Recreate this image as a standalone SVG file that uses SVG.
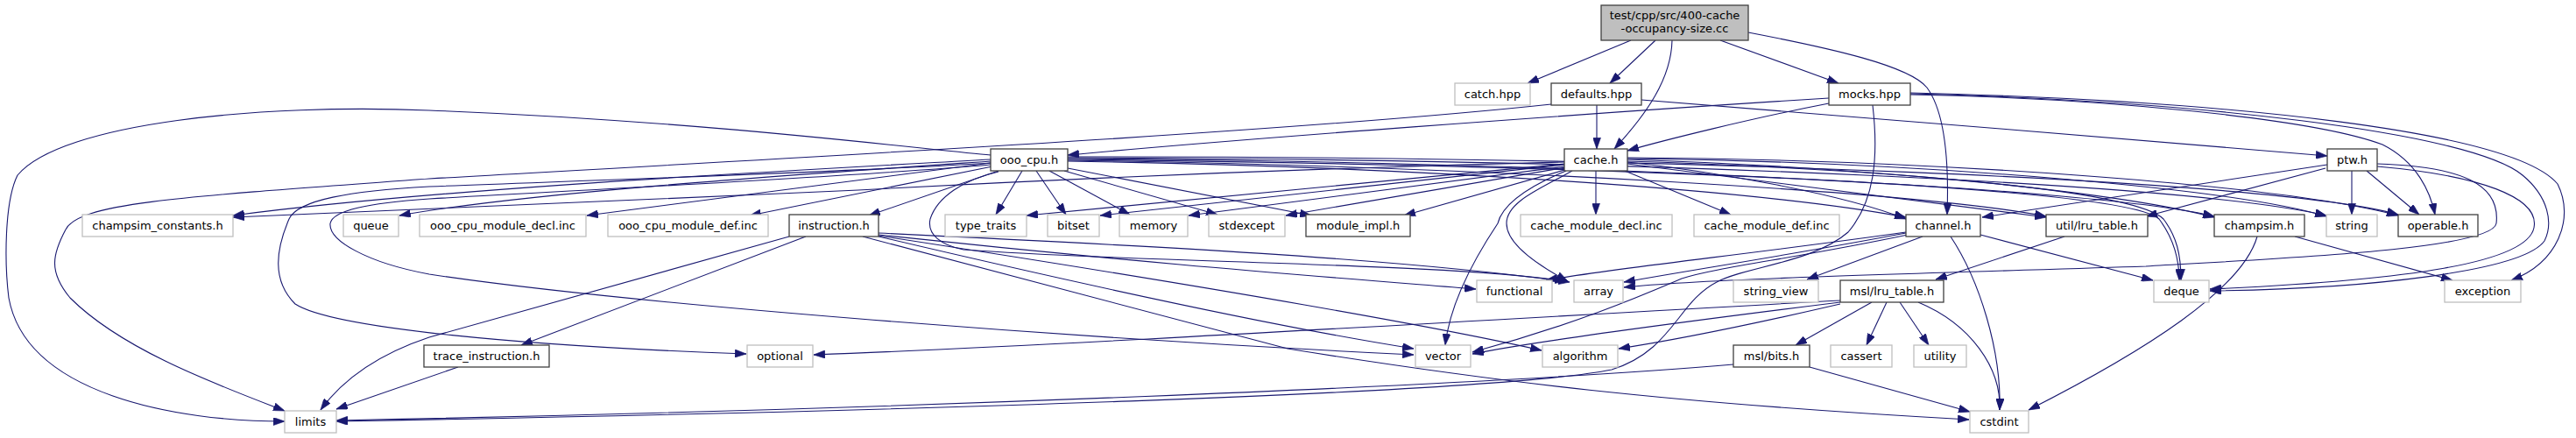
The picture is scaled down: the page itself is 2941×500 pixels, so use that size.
<svg xmlns="http://www.w3.org/2000/svg" width="2941" height="500" viewBox="0 0 2941 500">
<style>
text{font-family:"DejaVu Sans","Liberation Sans",sans-serif;font-size:13px;fill:#000;text-anchor:middle}
.n rect{fill:#fff;stroke:#404040;stroke-width:1.3}
.x rect{fill:#fff;stroke:#bfbfbf;stroke-width:1.3}
.r rect{fill:#bfbfbf;stroke:#404040;stroke-width:1.3}
#edges path{fill:none;stroke:#191970;stroke-width:1.1;marker-end:url(#a)}
</style>
<defs>
<marker id="a" viewBox="0 0 10 7" refX="10" refY="3.5" markerWidth="13" markerHeight="9" markerUnits="userSpaceOnUse" orient="auto"><path d="M0,0L10,3.5L0,7z" fill="#191970" stroke="#191970" stroke-width="0.5"/></marker>
</defs>
<rect width="2941" height="500" fill="#fff"/>
<g id="edges">
<path d="M1862,46L1744,95"/>
<path d="M1890,46L1838,95"/>
<path d="M1909,46C1908,90 1880,130 1843,170"/>
<path d="M1964,46L2099,95"/>
<path d="M1996,37C2090,55 2180,75 2200,100C2222,130 2225,190 2223,245"/>
<path d="M1823,120L1823,170"/>
<path d="M1874,114C2050,128 2450,160 2657,178"/>
<path d="M1771,119C1500,148 1000,175 490,204C200,225 90,232 75,262C60,290 55,310 80,340C140,400 250,440 325,469"/>
<path d="M2088,112C1800,130 1400,160 1219,177"/>
<path d="M2088,118C2000,135 1900,160 1858,172"/>
<path d="M2138,120C2145,180 2140,230 2110,265C2070,300 1990,305 1960,322C1915,345 1910,400 1840,422C1700,450 1000,470 384,481"/>
<path d="M2181,108C2400,112 2640,135 2720,165C2760,185 2775,220 2780,245"/>
<path d="M2181,107C2500,115 2820,150 2880,200C2910,225 2915,255 2905,275C2880,310 2700,330 2523,332"/>
<path d="M2181,106C2550,115 2870,150 2920,210C2940,250 2920,300 2867,320"/>
<path d="M2685,195L2685,245"/>
<path d="M2702,195L2762,245"/>
<path d="M2657,188L2263,248"/>
<path d="M2655,192L2450,247"/>
<path d="M2714,190C2830,200 2900,225 2893,260C2885,300 2750,320 2523,330"/>
<path d="M2714,187C2810,190 2855,210 2850,255C2845,285 2600,295 2450,304C2200,312 1950,318 1854,328"/>
<path d="M1786,185C1500,192 1200,205 980,217C700,230 400,240 266,248"/>
<path d="M1786,187L1172,246"/>
<path d="M1786,188L1256,246"/>
<path d="M1787,190L1357,246"/>
<path d="M1788,191L1468,246"/>
<path d="M1790,193L1603,246"/>
<path d="M1822,195L1822,245"/>
<path d="M1855,195L1976,245"/>
<path d="M1858,185C1950,195 2100,220 2176,250"/>
<path d="M1858,187L2336,248"/>
<path d="M1858,182C2100,190 2400,215 2528,248"/>
<path d="M1858,181C2200,185 2550,215 2656,247"/>
<path d="M1858,180C2200,182 2600,210 2738,246"/>
<path d="M1858,184C2200,195 2440,220 2470,250C2485,270 2490,290 2490,320"/>
<path d="M1795,195C1760,215 1720,230 1720,255C1720,280 1760,305 1790,321"/>
<path d="M1788,195C1740,215 1715,235 1710,255C1680,300 1655,350 1650,394"/>
<path d="M1131,177C1050,170 800,138 490,126C300,118 70,140 20,200C5,230 5,300 10,340C30,450 200,481 325,481"/>
<path d="M1131,182C900,195 500,215 266,246"/>
<path d="M1131,184C900,200 600,220 456,246"/>
<path d="M1131,186L670,246"/>
<path d="M1133,190L856,246"/>
<path d="M1140,195L992,246"/>
<path d="M1167,195L1137,245"/>
<path d="M1183,195L1217,245"/>
<path d="M1198,195L1290,245"/>
<path d="M1215,195L1390,245"/>
<path d="M1219,192L1497,246"/>
<path d="M1219,184C1600,190 2000,215 2176,248"/>
<path d="M1219,183C1700,190 2200,220 2336,247"/>
<path d="M1219,181C1800,185 2400,215 2528,247"/>
<path d="M1219,180C1900,182 2500,210 2656,246"/>
<path d="M1219,179C1900,178 2600,205 2738,245"/>
<path d="M1219,182C1900,190 2430,215 2465,250C2480,270 2488,295 2488,320"/>
<path d="M1140,196C1100,205 1070,225 1062,250C1058,268 1075,280 1100,285C1300,300 1650,300 1788,321"/>
<path d="M1131,186C1000,195 700,205 490,213C400,218 340,228 330,250C315,285 310,320 337,347C380,375 600,395 852,404"/>
<path d="M1131,188C1000,200 700,215 490,227C420,232 380,240 377,255C375,275 420,300 490,313C700,345 1200,385 1614,405"/>
<path d="M901,270L490,385C430,405 390,435 366,468"/>
<path d="M920,270L595,394"/>
<path d="M1003,266C1300,280 1600,295 1792,322"/>
<path d="M1003,268C1300,300 1500,315 1685,330"/>
<path d="M1003,269C1400,330 1650,375 1760,400"/>
<path d="M1003,270C1300,340 1500,380 1614,398"/>
<path d="M985,270L1470,398C1700,435 1900,460 2248,479"/>
<path d="M523,419L384,467"/>
<path d="M2176,265C2000,290 1850,305 1765,320"/>
<path d="M2176,266C2050,290 1950,305 1854,322"/>
<path d="M2178,268C2050,295 1960,305 1920,318C1880,335 1800,370 1681,402"/>
<path d="M2195,270L2063,319"/>
<path d="M2227,270C2260,320 2285,400 2283,468"/>
<path d="M2261,268L2458,320"/>
<path d="M2357,270L2210,319"/>
<path d="M2137,345L2050,394"/>
<path d="M2154,345L2131,394"/>
<path d="M2169,345L2202,394"/>
<path d="M2190,345C2250,370 2285,420 2283,468"/>
<path d="M2101,343C1700,365 1200,395 929,405"/>
<path d="M2101,345C1900,370 1750,390 1681,404"/>
<path d="M2101,347C1980,375 1900,390 1848,398"/>
<path d="M2066,419L2249,470"/>
<path d="M1979,416C1700,440 1000,468 384,480"/>
<path d="M2577,270C2560,330 2450,400 2316,468"/>
<path d="M2620,270L2800,320"/>
</g>
<g id="n0" class="r"><rect x="1828" y="6" width="168" height="40"/><text x="1912" y="21.5">test/cpp/src/400-cache</text><text x="1912" y="36.5">-occupancy-size.cc</text></g>
<g id="n1" class="x"><rect x="1661" y="95" width="86" height="25"/><text x="1704" y="112">catch.hpp</text></g>
<g id="n2" class="n"><rect x="1771" y="95" width="103" height="25"/><text x="1822.5" y="112">defaults.hpp</text></g>
<g id="n3" class="n"><rect x="2088" y="95" width="93" height="25"/><text x="2134.5" y="112">mocks.hpp</text></g>
<g id="n4" class="n"><rect x="1131" y="170" width="88" height="25"/><text x="1175" y="187">ooo_cpu.h</text></g>
<g id="n5" class="n"><rect x="1786" y="170" width="72" height="25"/><text x="1822" y="187">cache.h</text></g>
<g id="n6" class="n"><rect x="2657" y="170" width="57" height="25"/><text x="2685.5" y="187">ptw.h</text></g>
<g id="n7" class="x"><rect x="94" y="245" width="172" height="25"/><text x="180" y="262">champsim_constants.h</text></g>
<g id="n8" class="x"><rect x="392" y="245" width="63" height="25"/><text x="423.5" y="262">queue</text></g>
<g id="n9" class="x"><rect x="479" y="245" width="190" height="25"/><text x="574" y="262">ooo_cpu_module_decl.inc</text></g>
<g id="n10" class="x"><rect x="694" y="245" width="183" height="25"/><text x="785.5" y="262">ooo_cpu_module_def.inc</text></g>
<g id="n11" class="n"><rect x="901" y="245" width="102" height="25"/><text x="952" y="262">instruction.h</text></g>
<g id="n12" class="x"><rect x="1079" y="245" width="93" height="25"/><text x="1125.5" y="262">type_traits</text></g>
<g id="n13" class="x"><rect x="1196" y="245" width="59" height="25"/><text x="1225.5" y="262">bitset</text></g>
<g id="n14" class="x"><rect x="1278" y="245" width="78" height="25"/><text x="1317" y="262">memory</text></g>
<g id="n15" class="x"><rect x="1380" y="245" width="87" height="25"/><text x="1423.5" y="262">stdexcept</text></g>
<g id="n16" class="n"><rect x="1491" y="245" width="119" height="25"/><text x="1550.5" y="262">module_impl.h</text></g>
<g id="n17" class="x"><rect x="1736" y="245" width="173" height="25"/><text x="1822.5" y="262">cache_module_decl.inc</text></g>
<g id="n18" class="x"><rect x="1934" y="245" width="166" height="25"/><text x="2017" y="262">cache_module_def.inc</text></g>
<g id="n19" class="n"><rect x="2176" y="245" width="85" height="25"/><text x="2218.5" y="262">channel.h</text></g>
<g id="n20" class="n"><rect x="2336" y="245" width="116" height="25"/><text x="2394" y="262">util/lru_table.h</text></g>
<g id="n21" class="n"><rect x="2528" y="245" width="103" height="25"/><text x="2579.5" y="262">champsim.h</text></g>
<g id="n22" class="x"><rect x="2656" y="245" width="58" height="25"/><text x="2685" y="262">string</text></g>
<g id="n23" class="n"><rect x="2738" y="245" width="91" height="25"/><text x="2783.5" y="262">operable.h</text></g>
<g id="n24" class="x"><rect x="1686" y="320" width="86" height="25"/><text x="1729" y="337">functional</text></g>
<g id="n25" class="x"><rect x="1797" y="320" width="56" height="25"/><text x="1825" y="337">array</text></g>
<g id="n26" class="x"><rect x="1979" y="320" width="97" height="25"/><text x="2027.5" y="337">string_view</text></g>
<g id="n27" class="n"><rect x="2101" y="320" width="118" height="25"/><text x="2160" y="337">msl/lru_table.h</text></g>
<g id="n28" class="x"><rect x="2459" y="320" width="63" height="25"/><text x="2490.5" y="337">deque</text></g>
<g id="n29" class="x"><rect x="2791" y="320" width="87" height="25"/><text x="2834.5" y="337">exception</text></g>
<g id="n30" class="n"><rect x="484" y="394" width="143" height="25"/><text x="555.5" y="411">trace_instruction.h</text></g>
<g id="n31" class="x"><rect x="853" y="394" width="75" height="25"/><text x="890.5" y="411">optional</text></g>
<g id="n32" class="x"><rect x="1616" y="394" width="63" height="25"/><text x="1647.5" y="411">vector</text></g>
<g id="n33" class="x"><rect x="1761" y="394" width="86" height="25"/><text x="1804" y="411">algorithm</text></g>
<g id="n34" class="n"><rect x="1979" y="394" width="87" height="25"/><text x="2022.5" y="411">msl/bits.h</text></g>
<g id="n35" class="x"><rect x="2090" y="394" width="70" height="25"/><text x="2125" y="411">cassert</text></g>
<g id="n36" class="x"><rect x="2185" y="394" width="60" height="25"/><text x="2215" y="411">utility</text></g>
<g id="n37" class="x"><rect x="325" y="469" width="59" height="25"/><text x="354.5" y="486">limits</text></g>
<g id="n38" class="x"><rect x="2249" y="469" width="67" height="25"/><text x="2282.5" y="486">cstdint</text></g>
</svg>
